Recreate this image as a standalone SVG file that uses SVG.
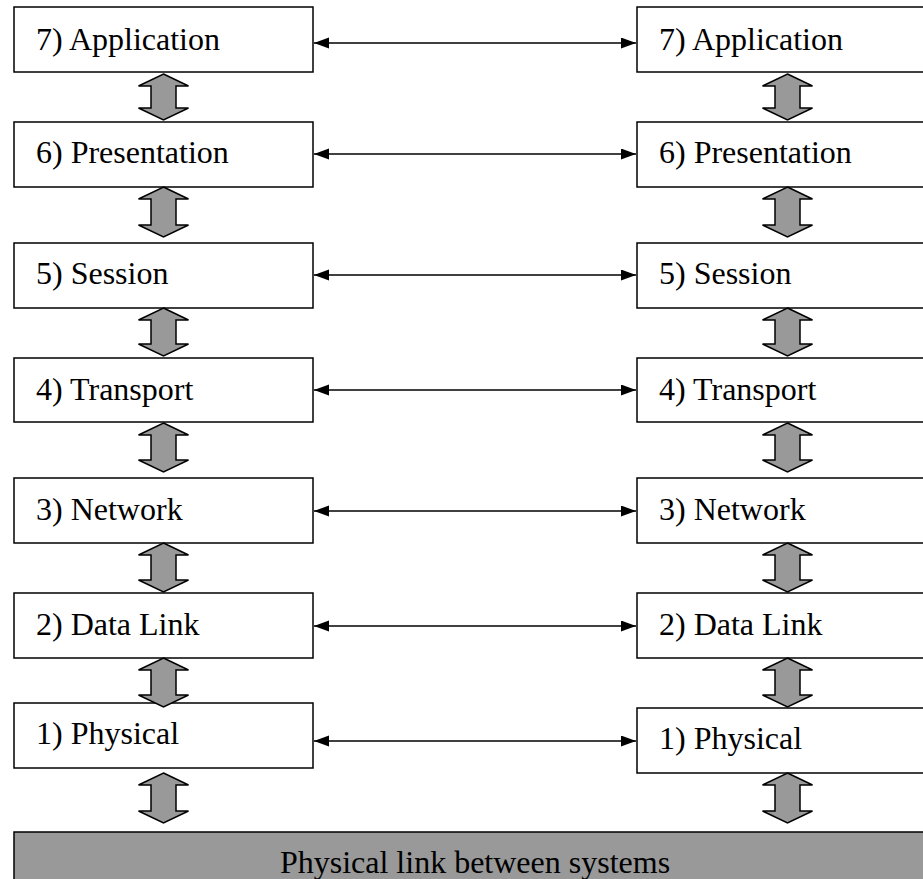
<svg xmlns="http://www.w3.org/2000/svg" width="923" height="879" viewBox="0 0 923 879">
<defs>
<style>
.box{fill:#fff;stroke:#000;stroke-width:1.5}
.lbl{font-family:"Liberation Serif","Times New Roman",serif;font-size:32px;fill:#000}
.blk{fill:#999;stroke:#000;stroke-width:1.5;stroke-linejoin:miter}
.conn{stroke:#000;stroke-width:1.4;fill:none}
.bar{fill:#999;stroke:#000;stroke-width:1.5}
</style>
<marker id="ah" markerUnits="userSpaceOnUse" markerWidth="16" markerHeight="12" refX="15" refY="5.5" orient="auto-start-reverse" viewBox="0 0 16 12">
<path d="M0,0 L15,5.5 L0,11 Z" fill="#000"/>
</marker>
<path id="va" d="M0,0 L25,12 L12.5,12 L12.5,-12 L25,-12 L0,0 Z"/>
</defs>
<rect width="923" height="879" fill="#fff"/>

<g id="left-7"><rect class="box" x="14" y="7" width="299" height="65"/><text class="lbl" x="36" y="50">7) Application</text></g>
<g id="left-6"><rect class="box" x="14" y="122" width="299" height="65"/><text class="lbl" x="36" y="163">6) Presentation</text></g>
<g id="left-5"><rect class="box" x="14" y="243" width="299" height="65"/><text class="lbl" x="36" y="284">5) Session</text></g>
<g id="left-4"><rect class="box" x="14" y="358" width="299" height="64"/><text class="lbl" x="36" y="400">4) Transport</text></g>
<g id="left-3"><rect class="box" x="14" y="478" width="299" height="65"/><text class="lbl" x="36" y="520">3) Network</text></g>
<g id="left-2"><rect class="box" x="14" y="593" width="299" height="65"/><text class="lbl" x="36" y="635">2) Data Link</text></g>
<g id="left-1"><rect class="box" x="14" y="703" width="299" height="65"/><text class="lbl" x="36" y="744">1) Physical</text></g>

<g id="right-7"><rect class="box" x="637" y="7" width="300" height="65"/><text class="lbl" x="659" y="50">7) Application</text></g>
<g id="right-6"><rect class="box" x="637" y="122" width="300" height="65"/><text class="lbl" x="659" y="163">6) Presentation</text></g>
<g id="right-5"><rect class="box" x="637" y="243" width="300" height="65"/><text class="lbl" x="659" y="284">5) Session</text></g>
<g id="right-4"><rect class="box" x="637" y="358" width="300" height="64"/><text class="lbl" x="659" y="400">4) Transport</text></g>
<g id="right-3"><rect class="box" x="637" y="478" width="300" height="65"/><text class="lbl" x="659" y="520">3) Network</text></g>
<g id="right-2"><rect class="box" x="637" y="593" width="300" height="65"/><text class="lbl" x="659" y="635">2) Data Link</text></g>
<g id="right-1"><rect class="box" x="637" y="708" width="300" height="65"/><text class="lbl" x="659" y="749">1) Physical</text></g>

<g id="physical-link"><rect class="bar" x="14" y="832" width="925" height="60"/><text class="lbl" x="475" y="873" text-anchor="middle">Physical link between systems</text></g>

<g id="connectors">
<g id="peer-arrows">
<line class="conn" x1="314" y1="43" x2="636" y2="43" marker-start="url(#ah)" marker-end="url(#ah)"/>
<line class="conn" x1="314" y1="154" x2="636" y2="154" marker-start="url(#ah)" marker-end="url(#ah)"/>
<line class="conn" x1="314" y1="275" x2="636" y2="275" marker-start="url(#ah)" marker-end="url(#ah)"/>
<line class="conn" x1="314" y1="390" x2="636" y2="390" marker-start="url(#ah)" marker-end="url(#ah)"/>
<line class="conn" x1="314" y1="511" x2="636" y2="511" marker-start="url(#ah)" marker-end="url(#ah)"/>
<line class="conn" x1="314" y1="626" x2="636" y2="626" marker-start="url(#ah)" marker-end="url(#ah)"/>
<line class="conn" x1="314" y1="741" x2="636" y2="741" marker-start="url(#ah)" marker-end="url(#ah)"/>
</g>
<g id="layer-arrows-left">
<path class="blk" d="M163.5,74 L188.5,86 L176,86 L176,108 L188.5,108 L163.5,120 L138.5,108 L151,108 L151,86 L138.5,86 Z"/>
<path class="blk" d="M163.5,187 L188.5,199 L176,199 L176,225 L188.5,225 L163.5,237 L138.5,225 L151,225 L151,199 L138.5,199 Z"/>
<path class="blk" d="M163.5,308 L188.5,320 L176,320 L176,344 L188.5,344 L163.5,356 L138.5,344 L151,344 L151,320 L138.5,320 Z"/>
<path class="blk" d="M163.5,423 L188.5,435 L176,435 L176,460 L188.5,460 L163.5,472 L138.5,460 L151,460 L151,435 L138.5,435 Z"/>
<path class="blk" d="M163.5,543 L188.5,555 L176,555 L176,580 L188.5,580 L163.5,592 L138.5,580 L151,580 L151,555 L138.5,555 Z"/>
<path class="blk" d="M163.5,658 L188.5,670 L176,670 L176,695 L188.5,695 L163.5,707 L138.5,695 L151,695 L151,670 L138.5,670 Z"/>
<path class="blk" d="M163.5,773 L188.5,785 L176,785 L176,811 L188.5,811 L163.5,823 L138.5,811 L151,811 L151,785 L138.5,785 Z"/>
</g>
<g id="layer-arrows-right">
<path class="blk" d="M787.5,74 L812.5,86 L800,86 L800,108 L812.5,108 L787.5,120 L762.5,108 L775,108 L775,86 L762.5,86 Z"/>
<path class="blk" d="M787.5,187 L812.5,199 L800,199 L800,225 L812.5,225 L787.5,237 L762.5,225 L775,225 L775,199 L762.5,199 Z"/>
<path class="blk" d="M787.5,308 L812.5,320 L800,320 L800,344 L812.5,344 L787.5,356 L762.5,344 L775,344 L775,320 L762.5,320 Z"/>
<path class="blk" d="M787.5,423 L812.5,435 L800,435 L800,460 L812.5,460 L787.5,472 L762.5,460 L775,460 L775,435 L762.5,435 Z"/>
<path class="blk" d="M787.5,543 L812.5,555 L800,555 L800,580 L812.5,580 L787.5,592 L762.5,580 L775,580 L775,555 L762.5,555 Z"/>
<path class="blk" d="M787.5,658 L812.5,670 L800,670 L800,695 L812.5,695 L787.5,707 L762.5,695 L775,695 L775,670 L762.5,670 Z"/>
<path class="blk" d="M787.5,773 L812.5,785 L800,785 L800,811 L812.5,811 L787.5,823 L762.5,811 L775,811 L775,785 L762.5,785 Z"/>
</g>
</g>
</svg>
